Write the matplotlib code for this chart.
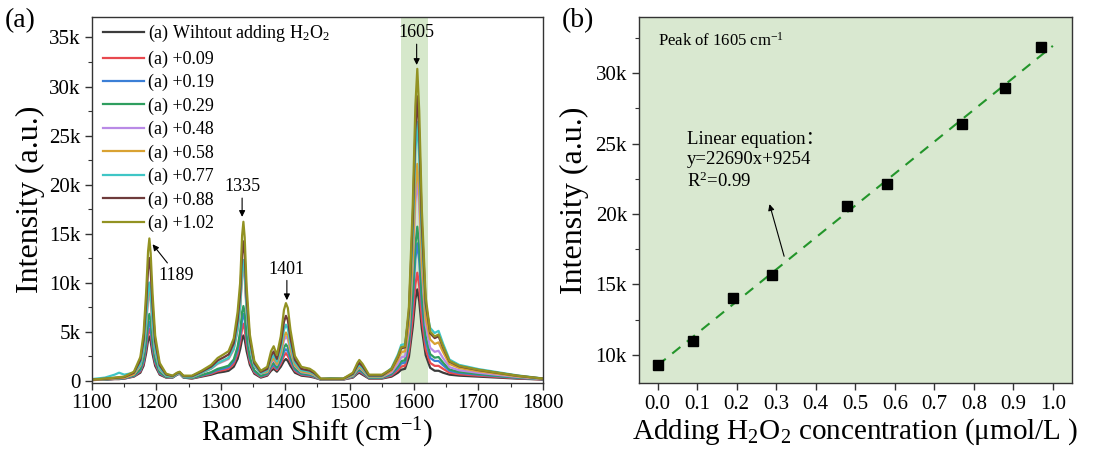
import matplotlib
matplotlib.use('Agg')
import matplotlib.pyplot as plt
from matplotlib.ticker import MultipleLocator, FuncFormatter

plt.rcParams['font.family'] = ['Liberation Serif', 'Noto Sans CJK SC']
plt.rcParams['mathtext.fontset'] = 'custom'
plt.rcParams['mathtext.rm'] = 'Liberation Serif'
plt.rcParams['mathtext.it'] = 'Liberation Serif:italic'

# ---- (a) Raman spectra, intensity in thousands of counts ----
shift = [1100, 1120, 1135, 1142, 1150, 1165, 1175, 1180, 1184, 1187, 1189, 1191, 1194, 1198, 1205,
         1215, 1225, 1232, 1236, 1242, 1255, 1270, 1285, 1295, 1305, 1312, 1320, 1326, 1330, 1333,
         1335, 1337, 1340, 1345, 1352, 1362, 1372, 1378, 1382, 1387, 1393, 1398, 1401, 1404, 1408,
         1415, 1425, 1438, 1445, 1455, 1470, 1490, 1505, 1512, 1515, 1520, 1530, 1550, 1565, 1575,
         1580, 1586, 1592, 1598, 1602, 1605, 1608, 1612, 1618, 1625, 1632, 1638, 1645, 1655, 1670,
         1700, 1730, 1760, 1800]

spec_0 = [0.05, 0.1, 0.15, 0.15, 0.2, 0.4, 0.8, 1.5, 2.8, 4.1, 4.5, 4.0, 2.7, 1.5, 0.6,
          0.3, 0.3, 0.6, 0.7, 0.3, 0.2, 0.4, 0.6, 0.8, 0.9, 1.0, 1.4, 2.2, 3.2, 4.2,
          4.6, 4.2, 3.0, 1.6, 0.7, 0.3, 0.5, 1.0, 1.2, 0.9, 1.4, 2.0, 2.2, 2.0, 1.5,
          0.8, 0.5, 0.4, 0.3, 0.1, 0.1, 0.1, 0.3, 0.7, 0.8, 0.6, 0.2, 0.2, 0.4, 0.8,
          1.1, 1.2, 2.4, 5.5, 8.3, 9.3, 8.1, 5.3, 2.6, 1.3, 1.0, 1.0, 0.8, 0.6, 0.5,
          0.4, 0.3, 0.2, 0.1]
spec_009 = [0.05, 0.1, 0.16, 0.16, 0.2, 0.44, 0.93, 1.76, 3.3, 4.8, 5.3, 4.7, 3.2, 1.75, 0.7,
            0.33, 0.32, 0.62, 0.72, 0.32, 0.22, 0.46, 0.7, 0.95, 1.08, 1.2, 1.7, 2.7, 3.9, 5.3,
            5.8, 5.2, 3.7, 1.9, 0.83, 0.37, 0.59, 1.2, 1.43, 1.07, 1.7, 2.5, 2.8, 2.5, 1.9,
            0.97, 0.59, 0.48, 0.36, 0.11, 0.11, 0.11, 0.35, 0.81, 0.93, 0.71, 0.24, 0.24, 0.51, 1.04,
            1.42, 1.52, 3.0, 6.5, 9.8, 11.0, 9.65, 6.3, 3.2, 1.8, 1.5, 1.5, 1.2, 0.8, 0.64,
            0.5, 0.37, 0.24, 0.11]
spec_019 = [0.06, 0.12, 0.17, 0.18, 0.23, 0.48, 1.04, 2.0, 3.7, 5.5, 6.0, 5.35, 3.6, 1.97, 0.78,
            0.36, 0.33, 0.63, 0.73, 0.33, 0.25, 0.51, 0.79, 1.08, 1.24, 1.38, 1.95, 3.1, 4.5, 6.2,
            6.8, 6.2, 4.25, 2.2, 0.95, 0.43, 0.66, 1.36, 1.6, 1.2, 1.96, 2.94, 3.2, 2.97, 2.17,
            1.1, 0.66, 0.54, 0.41, 0.12, 0.12, 0.12, 0.39, 0.9, 1.03, 0.8, 0.27, 0.27, 0.62, 1.28,
            1.74, 1.84, 3.6, 8.1, 12.4, 14.0, 12.2, 7.9, 4.0, 2.3, 2.0, 2.0, 1.56, 1.0, 0.78,
            0.6, 0.44, 0.28, 0.13]
spec_029 = [0.06, 0.12, 0.18, 0.2, 0.25, 0.52, 1.17, 2.26, 4.2, 6.2, 6.8, 6.1, 4.1, 2.2, 0.88,
            0.39, 0.35, 0.65, 0.75, 0.35, 0.27, 0.56, 0.86, 1.19, 1.37, 1.52, 2.15, 3.45, 5.0, 7.0,
            7.6, 6.9, 4.7, 2.4, 1.04, 0.48, 0.73, 1.52, 1.8, 1.34, 2.2, 3.35, 3.7, 3.4, 2.46,
            1.24, 0.73, 0.61, 0.46, 0.13, 0.13, 0.13, 0.43, 0.99, 1.14, 0.89, 0.3, 0.3, 0.7, 1.45,
            1.97, 2.07, 4.0, 9.0, 13.8, 15.7, 13.5, 8.7, 4.5, 2.7, 2.33, 2.4, 1.83, 1.13, 0.88,
            0.67, 0.49, 0.31, 0.14]
spec_048 = [0.07, 0.15, 0.22, 0.24, 0.29, 0.63, 1.52, 3.0, 5.6, 8.2, 9.0, 8.05, 5.45, 2.9, 1.14,
            0.48, 0.39, 0.69, 0.79, 0.39, 0.34, 0.76, 1.2, 1.7, 1.98, 2.2, 3.14, 5.1, 7.3, 10.6,
            11.6, 10.4, 7.0, 3.5, 1.5, 0.72, 0.86, 1.8, 2.1, 1.6, 2.64, 4.1, 4.5, 4.2, 3.0,
            1.5, 0.86, 0.72, 0.54, 0.14, 0.14, 0.14, 0.5, 1.14, 1.32, 1.04, 0.36, 0.36, 0.84, 1.74,
            2.37, 2.47, 5.05, 11.75, 18.15, 20.5, 17.8, 11.4, 5.67, 3.34, 2.93, 3.04, 2.29, 1.37, 1.05,
            0.79, 0.58, 0.37, 0.155]
spec_058 = [0.08, 0.15, 0.23, 0.25, 0.3, 0.65, 1.6, 3.15, 5.9, 8.65, 9.5, 8.5, 5.75, 3.05, 1.2,
            0.5, 0.4, 0.7, 0.8, 0.4, 0.35, 0.78, 1.24, 1.76, 2.05, 2.28, 3.26, 5.27, 7.55, 11.0,
            12.0, 10.86, 7.22, 3.58, 1.53, 0.75, 0.92, 1.94, 2.28, 1.7, 2.86, 4.44, 4.9, 4.54, 3.24,
            1.6, 0.92, 0.78, 0.58, 0.15, 0.15, 0.15, 0.54, 1.22, 1.41, 1.12, 0.39, 0.39, 1.02, 2.13,
            2.89, 2.99, 5.7, 12.6, 19.5, 22.1, 19.2, 12.25, 6.44, 4.19, 3.73, 3.89, 2.91, 1.69, 1.28,
            0.95, 0.69, 0.43, 0.18]
spec_077 = [0.15, 0.3, 0.6, 0.8, 0.6, 0.8, 1.7, 3.3, 6.2, 9.1, 10.0, 8.95, 6.06, 3.2, 1.26,
            0.52, 0.41, 0.71, 0.81, 0.41, 0.37, 0.8, 1.26, 1.79, 2.09, 2.32, 3.31, 5.37, 7.69, 11.2,
            12.3, 11.06, 7.36, 3.65, 1.56, 0.76, 1.05, 2.22, 2.6, 1.94, 3.29, 5.17, 5.7, 5.29, 3.76,
            1.84, 1.05, 0.89, 0.67, 0.16, 0.25, 0.2, 0.61, 1.37, 1.59, 1.27, 0.44, 0.44, 1.28, 2.67,
            3.63, 3.73, 6.7, 15.0, 23.3, 26.4, 22.8, 14.6, 7.6, 5.37, 4.85, 5.07, 3.77, 2.14, 1.6,
            1.17, 0.85, 0.53, 0.21]
spec_088 = [0.09, 0.18, 0.27, 0.31, 0.36, 0.8, 2.08, 4.14, 7.76, 11.38, 12.5, 11.2, 7.58, 3.98, 1.56,
            0.62, 0.46, 0.76, 0.86, 0.46, 0.44, 0.9, 1.43, 2.05, 2.39, 2.66, 3.81, 6.18, 8.84, 13.0,
            14.2, 12.8, 8.48, 4.17, 1.78, 0.88, 1.19, 2.54, 2.97, 2.21, 3.79, 6.0, 6.6, 6.16, 4.35,
            2.11, 1.19, 1.02, 0.76, 0.18, 0.18, 0.18, 0.69, 1.55, 1.8, 1.45, 0.51, 0.51, 1.16, 2.42,
            3.29, 3.39, 7.0, 16.5, 25.6, 29.0, 25.2, 16.0, 7.9, 4.82, 4.33, 4.52, 3.37, 1.93, 1.45,
            1.07, 0.78, 0.49, 0.2]
spec_102 = [0.1, 0.2, 0.3, 0.35, 0.4, 0.9, 2.4, 4.8, 9.0, 13.2, 14.5, 13.0, 8.8, 4.6, 1.8,
            0.7, 0.5, 0.8, 0.9, 0.5, 0.5, 1.0, 1.6, 2.3, 2.7, 3.0, 4.3, 7.0, 10.0, 14.8,
            16.2, 14.6, 9.6, 4.7, 2.0, 1.0, 1.4, 3.0, 3.5, 2.6, 4.5, 7.2, 7.9, 7.4, 5.2,
            2.5, 1.4, 1.2, 0.9, 0.2, 0.2, 0.2, 0.8, 1.8, 2.1, 1.7, 0.6, 0.6, 1.2, 2.5,
            3.4, 3.5, 7.5, 18.0, 28.0, 31.8, 27.5, 17.5, 8.5, 5.0, 4.5, 4.7, 3.5, 2.0, 1.5,
            1.1, 0.8, 0.5, 0.2]

spectra = [spec_0, spec_009, spec_019, spec_029, spec_048, spec_058, spec_077, spec_088, spec_102]
labels = ['(a) Wihtout adding H$_2$O$_2$', '(a) +0.09', '(a) +0.19', '(a) +0.29', '(a) +0.48',
          '(a) +0.58', '(a) +0.77', '(a) +0.88', '(a) +1.02']
colors = ['#3c3c3c', '#e8494f', '#3b7fd6', '#2f9e5f', '#b98ae6', '#d9a232', '#3fc6c6', '#6e3b3b', '#929222']

# ---- (b) peak intensity at 1605 cm-1 ----
conc = [0.0, 0.09, 0.19, 0.29, 0.48, 0.58, 0.77, 0.88, 0.97]
peak_1605 = [9300, 11000, 14000, 15700, 20550, 22100, 26380, 28980, 31840]
fit_x = [0.0, 1.0]
slope, intercept = 22690, 9254

fig = plt.figure(figsize=(11.05, 4.57), dpi=100)
ax1 = fig.add_axes([0.0833, 0.163, 0.408, 0.800])
ax2 = fig.add_axes([0.578, 0.162, 0.392, 0.801])

edge = '#333333'

ax1.axvspan(1580, 1622, color='#d6e8cb', zorder=0, lw=0)
for y, lab, c in zip(spectra, labels, colors):
    ax1.plot(shift, y, color=c, lw=1.6, label=lab)

ax1.set_xlim(1100, 1800)
ax1.set_ylim(-0.2, 37.1)
ax1.xaxis.set_major_locator(MultipleLocator(100))
ax1.xaxis.set_minor_locator(MultipleLocator(50))
ax1.yaxis.set_major_locator(MultipleLocator(5))
ax1.yaxis.set_minor_locator(MultipleLocator(2.5))
ax1.yaxis.set_major_formatter(FuncFormatter(lambda v, p: '0' if v == 0 else f'{v:g}k'))
ax1.set_xlabel('Raman Shift (cm$^{-1}$)', fontsize=21, labelpad=2)
ax1.set_ylabel('Intensity (a.u.)', fontsize=23, labelpad=3)

leg = ax1.legend(loc='upper left', bbox_to_anchor=(0.0, 1.012), frameon=False, fontsize=13,
                 handlelength=2.3, handletextpad=0.2, labelspacing=0.34, borderaxespad=0.2)

arrow = dict(arrowstyle='-|>', color='k', lw=0.8, mutation_scale=9, shrinkA=0, shrinkB=0)
ax1.annotate('1605', xy=(1604, 32.2), xytext=(1604, 34.6), ha='center', va='bottom',
             fontsize=13, arrowprops=arrow)
ax1.annotate('1335', xy=(1333, 16.7), xytext=(1333, 18.9), ha='center', va='bottom',
             fontsize=13, arrowprops=arrow)
ax1.annotate('1401', xy=(1402.5, 8.2), xytext=(1402.5, 10.5), ha='center', va='bottom',
             fontsize=13, arrowprops=arrow)
ax1.annotate('', xy=(1194, 13.9), xytext=(1217, 12.0), arrowprops=arrow)
ax1.text(1231, 10.7, '1189', ha='center', va='center', fontsize=13)

ax2.set_facecolor('#d9e8d0')
ax2.plot(fit_x, [slope * v + intercept for v in fit_x], ls=(0, (5, 4)), color='#23952a', lw=1.5, zorder=2)
ax2.plot(conc, peak_1605, ls='none', marker='s', ms=7, color='k', zorder=3)
ax2.set_xlim(-0.048, 1.048)
ax2.set_ylim(8000, 34000)
ax2.xaxis.set_major_locator(MultipleLocator(0.1))
ax2.xaxis.set_major_formatter(FuncFormatter(lambda v, p: f'{v:.1f}'))
ax2.yaxis.set_major_locator(MultipleLocator(5000))
ax2.yaxis.set_minor_locator(MultipleLocator(2500))
ax2.yaxis.set_major_formatter(FuncFormatter(lambda v, p: f'{v / 1000:g}k'))
ax2.set_xlabel('Adding H$_2$O$_2$ concentration (μmol/L )', fontsize=21, labelpad=2)
ax2.set_ylabel('Intensity (a.u.)', fontsize=23, labelpad=5)
ax2.text(0.0, 32300, 'Peak of 1605 cm$^{-1}$', fontsize=12, va='center')
ax2.annotate('', xy=(0.283, 20700), xytext=(0.32, 17000), arrowprops=arrow)
ax2.text(0.073, 25900, 'Linear equation：\ny=22690x+9254\nR$^2$=0.99', fontsize=13.5,
         va='top', linespacing=1.25)

for ax in (ax1, ax2):
    for s in ax.spines.values():
        s.set_color(edge)
        s.set_linewidth(1.0)
    ax.tick_params(which='both', direction='out', color=edge, top=False, right=False, labelsize=15)
    ax.tick_params(which='major', length=5, width=1.0)
    ax.tick_params(which='minor', length=3, width=0.8)

fig.text(0.004, 0.955, '(a)', fontsize=20, va='center')
fig.text(0.508, 0.955, '(b)', fontsize=20, va='center')

fig.savefig('out.png', dpi=100)
